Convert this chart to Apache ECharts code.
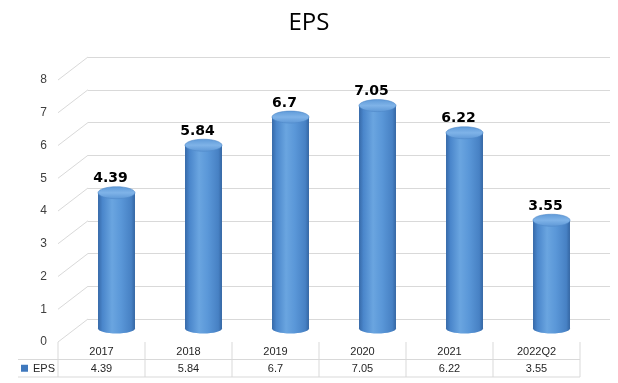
<!DOCTYPE html>
<html>
<head>
<meta charset="utf-8">
<script src="https://cdn.jsdelivr.net/npm/echarts@6/dist/echarts.min.js"></script>
<style>html,body{margin:0;padding:0;background:#fff;}#c{width:618px;height:383px;}</style>
</head>
<body>
<div id="c"></div>
<script>
// ---- data ----
const categories = ['2017', '2018', '2019', '2020', '2021', '2022Q2'];
const epsValues = [4.39, 5.84, 6.7, 7.05, 6.22, 3.55];
const seriesName = 'EPS';
const yTicks = [0, 1, 2, 3, 4, 5, 6, 7, 8];
const yMin = 0, yMax = 8, yInterval = 1;

const GRID_LINE = '#d9d9d9';
const DEPTH_X = 30, DEPTH_Y = -23;

const chart = echarts.init(document.getElementById('c'), null, {renderer: 'canvas'});

const bodyGrad = new echarts.graphic.LinearGradient(0, 0, 1, 0, [
  {offset: 0, color: '#3669a8'},
  {offset: 0.12, color: '#4a86cb'},
  {offset: 0.38, color: '#6aa5e0'},
  {offset: 0.62, color: '#5a97d8'},
  {offset: 0.9, color: '#4781c4'},
  {offset: 1, color: '#3466a3'}
]);
const topGrad = new echarts.graphic.LinearGradient(0, 0, 0, 1, [
  {offset: 0, color: '#5f9ad8'},
  {offset: 0.5, color: '#7fb3e8'},
  {offset: 1, color: '#5d97d6'}
]);

const option = {
  backgroundColor: '#ffffff',
  animation: false,
  title: {
    text: 'EPS', left: 'center', top: 6,
    textStyle: {fontFamily: 'Open Sans', fontSize: 24, fontWeight: 'normal', color: '#000'}
  },
  grid: [
    {left: 88, width: 522, top: 57, height: 262},   // back wall
    {left: 73, width: 522, top: 68.5, height: 262}, // bars (mid depth)
    {left: 58, width: 522, top: 80, height: 262},   // front plane
    {left: 58, width: 522, top: 342, height: 35}    // data table
  ],
  xAxis: [
    {gridIndex: 0, type: 'category', data: categories, show: false},
    {gridIndex: 1, type: 'category', data: categories, show: false},
    {gridIndex: 2, type: 'value', min: 0, max: 1, show: false},
    {gridIndex: 3, type: 'category', data: categories, show: false}
  ],
  yAxis: [
    {gridIndex: 0, type: 'value', min: yMin, max: yMax, interval: yInterval,
      axisLabel: {show: false}, axisLine: {show: false}, axisTick: {show: false},
      splitLine: {show: true, lineStyle: {color: GRID_LINE, width: 1}}},
    {gridIndex: 1, type: 'value', min: yMin, max: yMax, interval: yInterval, show: false},
    {gridIndex: 2, type: 'value', min: yMin, max: yMax, interval: yInterval,
      axisLabel: {show: true, margin: 11, color: '#404040', fontFamily: 'Liberation Sans', fontSize: 12},
      axisLine: {show: false}, axisTick: {show: false}, splitLine: {show: false}},
    {gridIndex: 3, type: 'value', min: 0, max: 2, show: false}
  ],
  series: [
    // side-wall diagonals
    {
      type: 'custom', xAxisIndex: 2, yAxisIndex: 2, silent: true,
      data: yTicks.map(v => [0, v]),
      renderItem: function (params, api) {
        const p = api.coord([0, api.value(1)]);
        return {type: 'line', shape: {x1: p[0], y1: p[1], x2: p[0] + DEPTH_X, y2: p[1] + DEPTH_Y},
          style: {stroke: GRID_LINE, lineWidth: 1}};
      }
    },
    // cylinders
    {
      type: 'custom', name: seriesName, xAxisIndex: 1, yAxisIndex: 1, clip: false,
      data: epsValues.map((v, i) => [i, v]),
      renderItem: function (params, api) {
        const i = api.value(0), v = api.value(1);
        const top = api.coord([i, v]);
        const base = api.coord([i, 0]);
        const bw = api.size([1, 0])[0] * 0.425;
        const rx = bw / 2, cx = top[0];
        const ryTop = 6, ryBot = 5;
        const yTopC = top[1] + ryTop;
        const yBotC = base[1] - 2;
        return {
          type: 'group',
          children: [
            {type: 'ellipse', shape: {cx: cx, cy: yBotC, rx: rx, ry: ryBot}, style: {fill: bodyGrad}},
            {type: 'rect', shape: {x: cx - rx, y: yTopC, width: bw, height: yBotC - yTopC}, style: {fill: bodyGrad}},
            {type: 'ellipse', shape: {cx: cx, cy: yTopC, rx: rx, ry: ryTop},
              style: {fill: topGrad, stroke: '#4f88c8', lineWidth: 0.6}},
            {type: 'text', x: cx - 6, y: top[1] - 1,
              style: {text: String(v), fill: '#000', font: 'bold 14px "DejaVu Sans"',
                align: 'center', verticalAlign: 'bottom'}}
          ]
        };
      }
    },
    // data table
    {
      type: 'custom', xAxisIndex: 3, yAxisIndex: 3, silent: true, clip: false,
      data: epsValues.map((v, i) => [i, v]),
      renderItem: function (params, api) {
        const i = api.value(0);
        const w = api.size([1, 0])[0];
        const cx = api.coord([i, 0])[0];
        const y0 = api.coord([i, 0])[1], y1 = api.coord([i, 1])[1], y2 = api.coord([i, 2])[1];
        const yCat = api.coord([i, 1.5])[1], yVal = api.coord([i, 0.5])[1];
        const l = cx - w / 2, r = cx + w / 2;
        const ls = {stroke: GRID_LINE, lineWidth: 1};
        const ch = [
          {type: 'line', shape: {x1: l, y1: y2, x2: l, y2: y0}, style: ls},
          {type: 'line', shape: {x1: l, y1: y1, x2: r, y2: y1}, style: ls},
          {type: 'line', shape: {x1: l, y1: y0, x2: r, y2: y0}, style: ls},
          {type: 'text', x: cx, y: yCat + 1, style: {text: categories[i], fill: '#262626',
            font: '11px "Liberation Sans"', align: 'center', verticalAlign: 'middle'}},
          {type: 'text', x: cx, y: yVal + 1, style: {text: String(epsValues[i]), fill: '#262626',
            font: '11px "Liberation Sans"', align: 'center', verticalAlign: 'middle'}}
        ];
        if (i === categories.length - 1) {
          ch.push({type: 'line', shape: {x1: r, y1: y2, x2: r, y2: y0}, style: ls});
        }
        if (i === 0) {
          ch.push({type: 'line', shape: {x1: l - 40, y1: y1, x2: l, y2: y1}, style: ls});
          ch.push({type: 'line', shape: {x1: l - 40, y1: y0, x2: l, y2: y0}, style: ls});
          ch.push({type: 'rect', shape: {x: l - 37, y: yVal - 3.5, width: 7, height: 7},
            style: {fill: '#3f78bd'}});
          ch.push({type: 'text', x: l - 3, y: yVal + 1, style: {text: seriesName, fill: '#262626',
            font: '11px "Liberation Sans"', align: 'right', verticalAlign: 'middle'}});
        }
        return {type: 'group', children: ch};
      }
    }
  ]
};
chart.setOption(option);
</script>
</body>
</html>
